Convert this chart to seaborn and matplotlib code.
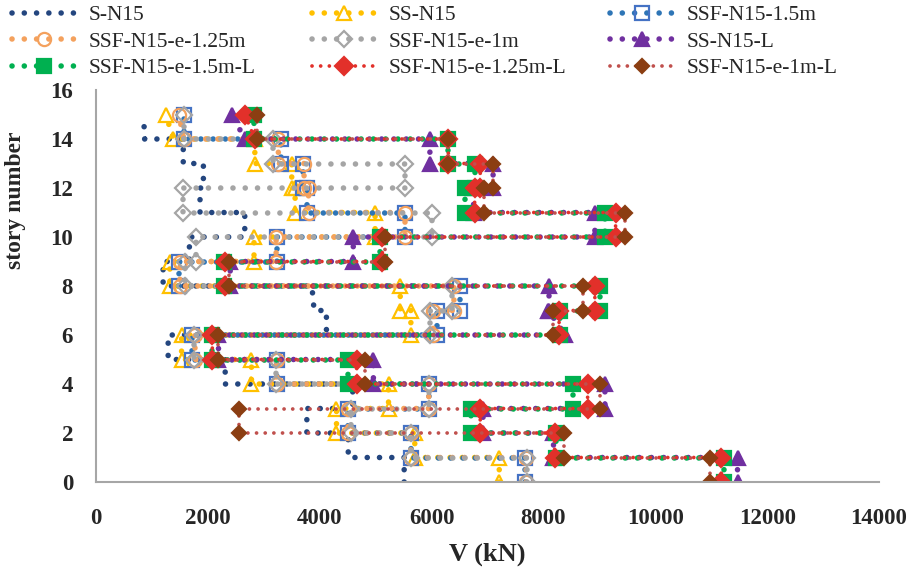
import matplotlib
matplotlib.use("Agg")
import matplotlib.pyplot as plt
import pandas as pd
import seaborn as sns

# Story shear envelopes (kN); value i acts over story i (floor i-1 to floor i)
stories = list(range(1, 16))

s_n15 = [5510, 4510, 3770, 4590, 2310, 1290, 4120, 3900, 1200, 1670, 2660, 1860, 1920, 1560, 870]
ss_n15 = [7210, 5700, 4300, 5230, 2780, 1530, 5630, 5440, 1320, 2825, 4990, 3560, 3500, 2840, 1380]
ssf_n15_15 = [7670, 5630, 4510, 5950, 3230, 1710, 6090, 6510, 1480, 3230, 5525, 3780, 3710, 3310, 1570]
ssf_n15_e125 = [7690, 5630, 4510, 5950, 3230, 1770, 6030, 6400, 1500, 3220, 5525, 3800, 3720, 3260, 1570]
ssf_n15_e1 = [7700, 5630, 4560, 5950, 3220, 1760, 5980, 6360, 1590, 1790, 6000, 1550, 5525, 3170, 1580]
ss_n15_l = [11470, 8180, 6920, 9100, 4960, 2190, 8390, 8100, 2400, 4600, 8920, 6750, 7100, 5970, 2660]
ssf_n15_e15_l = [11220, 8220, 6700, 8535, 4510, 2070, 8290, 9010, 2280, 5080, 9100, 6600, 6780, 6290, 2830]
ssf_n15_e125_l = [11180, 8200, 6870, 8790, 4660, 2080, 8280, 8920, 2310, 5120, 9290, 6770, 6870, 6300, 2840]
ssf_n15_e1_l = [10970, 8360, 2560, 9010, 4810, 2190, 8180, 8710, 2370, 5160, 9460, 6940, 7090, 6300, 2880]

# shear at the top of a story where it differs from the value at its bottom
top_shear = {
    "S-N15": {8: 3860, 15: 850},
    "SS-N15": {15: 1250},
    "SSF-N15-e-1.25m": {15: 1480},
    "SS-N15-L": {7: 8090, 15: 2430},
    "SSF-N15-e-1.25m-L": {15: 2660},
}

series = [
    ("S-N15", s_n15),
    ("SS-N15", ss_n15),
    ("SSF-N15-1.5m", ssf_n15_15),
    ("SSF-N15-e-1.25m", ssf_n15_e125),
    ("SSF-N15-e-1m", ssf_n15_e1),
    ("SS-N15-L", ss_n15_l),
    ("SSF-N15-e-1.5m-L", ssf_n15_e15_l),
    ("SSF-N15-e-1.25m-L", ssf_n15_e125_l),
    ("SSF-N15-e-1m-L", ssf_n15_e1_l),
]

# line colour, marker, face, edge, marker size, line width, dot gap
styles = {
    "S-N15": ("#24467F", None, None, None, 0, 4.0, 2.2),
    "SS-N15": ("#FFC000", "^", "none", "#FFC000", 9.5, 4.0, 2.2),
    "SSF-N15-1.5m": ("#2E75B6", "s", "none", "#4472C4", 9.5, 4.0, 2.2),
    "SSF-N15-e-1.25m": ("#F4A15D", "o", "none", "#F4A15D", 9.5, 4.0, 2.2),
    "SSF-N15-e-1m": ("#A5A5A5", "D", "none", "#A5A5A5", 8.5, 4.0, 2.2),
    "SS-N15-L": ("#7030A0", "^", "#7030A0", "#7030A0", 10, 4.0, 2.2),
    "SSF-N15-e-1.5m-L": ("#00B050", "s", "#00B050", "#00B050", 10, 4.0, 2.2),
    "SSF-N15-e-1.25m-L": ("#E2302A", "D", "#E2302A", "#E2302A", 9, 2.7, 2.3),
    "SSF-N15-e-1m-L": ("#C0504D", "D", "#8B3E12", "#8B3E12", 7.5, 2.7, 2.3),
}

rows = []
for name, vals in series:
    tops = top_shear.get(name, {})
    k = 0
    for st, v in zip(stories, vals):
        rows.append((name, k, v, st - 1))
        rows.append((name, k + 1, tops.get(st, v), st))
        k += 2
df = pd.DataFrame(rows, columns=["series", "order", "V", "story"])

sns.set_style("white")
plt.rcParams["font.family"] = ["Liberation Serif", "DejaVu Serif"]

fig = plt.figure(figsize=(9.2, 5.73), dpi=100)
ax = fig.add_axes([96 / 920, 1 - 482 / 573, 783 / 920, 392 / 573])

for name, _ in series:
    color, mk, mfc, mec, ms, lw, gap = styles[name]
    kw = dict(color=color, linewidth=lw, linestyle=(0, (0.01, gap)),
              dash_capstyle="round", label=name)
    if mk is not None:
        kw.update(marker=mk, markersize=ms, markerfacecolor=mfc,
                  markeredgecolor=mec, markeredgewidth=1.6)
    else:
        kw.update(marker="")
    sub = df[df["series"] == name].sort_values("order")
    sns.lineplot(data=sub, x="V", y="story", sort=False, estimator=None,
                 ax=ax, legend=False, **kw)

ax.set_xlim(0, 14000)
ax.set_ylim(0, 16)
ax.set_xticks(range(0, 14001, 2000))
ax.set_yticks(range(0, 17, 2))

for side in ("top", "right"):
    ax.spines[side].set_visible(False)
for side in ("left", "bottom"):
    ax.spines[side].set_color("#A6A6A6")
    ax.spines[side].set_linewidth(1.5)
ax.tick_params(axis="both", direction="out", length=6.5, width=1.5,
               color="#A6A6A6", labelsize=16.5)
ax.tick_params(axis="x", pad=12)
ax.tick_params(axis="y", pad=10)
for lab in ax.get_xticklabels() + ax.get_yticklabels():
    lab.set_fontweight("bold")

ax.set_xlabel("V (kN)", fontsize=19, fontweight="bold")
ax.set_ylabel("story number", fontsize=17, fontweight="bold")
ax.xaxis.set_label_coords(0.5, -0.155)
ax.yaxis.set_label_coords(-0.09, 0.72)

handles = {ln.get_label(): ln for ln in ax.get_lines()}
names = [n for n, _ in series]
col_x = [12, 312, 610]
for c in range(3):
    col = names[c::3]
    fig.legend([handles[n] for n in col], col, loc="upper left",
               bbox_to_anchor=(col_x[c] / 920, 1 - 5 / 573), frameon=False,
               ncol=1, fontsize=15.5, handlelength=3.0, handletextpad=0.55,
               borderpad=0, borderaxespad=0, labelspacing=0.3, numpoints=1)

fig.savefig("out.png", dpi=100)
